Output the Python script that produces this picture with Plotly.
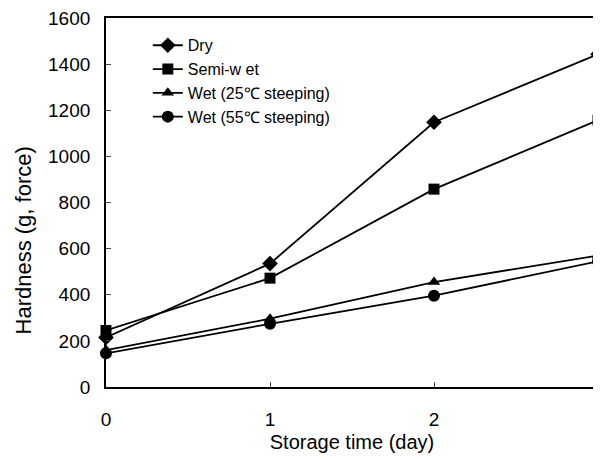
import plotly.graph_objects as go

days = [0, 1, 2, 3]
dry = [215, 535, 1148, 1443]
semi_wet = [245, 472, 858, 1157]
wet25 = [160, 296, 455, 570]
wet55 = [146, 274, 396, 545]

names = ["Dry", "Semi-w et", "Wet (25\u2103 steeping)", "Wet (55\u2103 steeping)"]
symbols = ["diamond", "square", "triangle-up", "circle"]
sizes = [12, 11, 11, 12]
series = [dry, semi_wet, wet25, wet55]
y_title = "Hardness (g, force)"
x_title = "Storage time (day)"

fig = go.Figure()
for name, ys, sym, sz in zip(names, series, symbols, sizes):
    fig.add_trace(go.Scatter(
        x=days, y=ys, name=name, mode="lines+markers",
        line=dict(color="black", width=1.8),
        marker=dict(symbol=sym, size=sz, color="black"),
        cliponaxis=False,
    ))

font = "Liberation Sans, Arial, sans-serif"
# page body has an 8px margin, so the figure is sized to fit the 601x459 window
fig.update_layout(
    width=593, height=451,
    margin=dict(l=98, r=3, t=10, b=72),
    paper_bgcolor="white", plot_bgcolor="white",
    font=dict(family=font, size=19, color="black"),
    showlegend=True,
    legend=dict(x=0.085, y=0.972, xanchor="left", yanchor="top",
                bgcolor="rgba(0,0,0,0)", font=dict(size=16, family=font),
                tracegroupgap=0),
)
fig.add_annotation(
    text=y_title, textangle=-90, showarrow=False,
    xref="paper", yref="paper", x=-0.168, y=0.398,
    xanchor="center", yanchor="middle",
    font=dict(size=22, family=font, color="black"),
)
fig.update_xaxes(
    range=[0, 3], tickvals=days, ticks="inside", ticklen=5,
    showline=True, linecolor="black", linewidth=1.8, mirror=True,
    showgrid=False, zeroline=False, automargin=False,
    title=dict(text=x_title, font=dict(size=20), standoff=6),
    tickfont=dict(size=19), ticklabelstandoff=14, ticklabeloverflow="allow",
)
fig.update_yaxes(
    range=[0, 1600], dtick=200, ticks="inside", ticklen=5,
    showline=True, linecolor="black", linewidth=1.8, mirror=True,
    showgrid=False, zeroline=False, automargin=False,
    tickfont=dict(size=19), ticklabelstandoff=10, ticklabeloverflow="allow",
)
fig.write_html("out.html")
